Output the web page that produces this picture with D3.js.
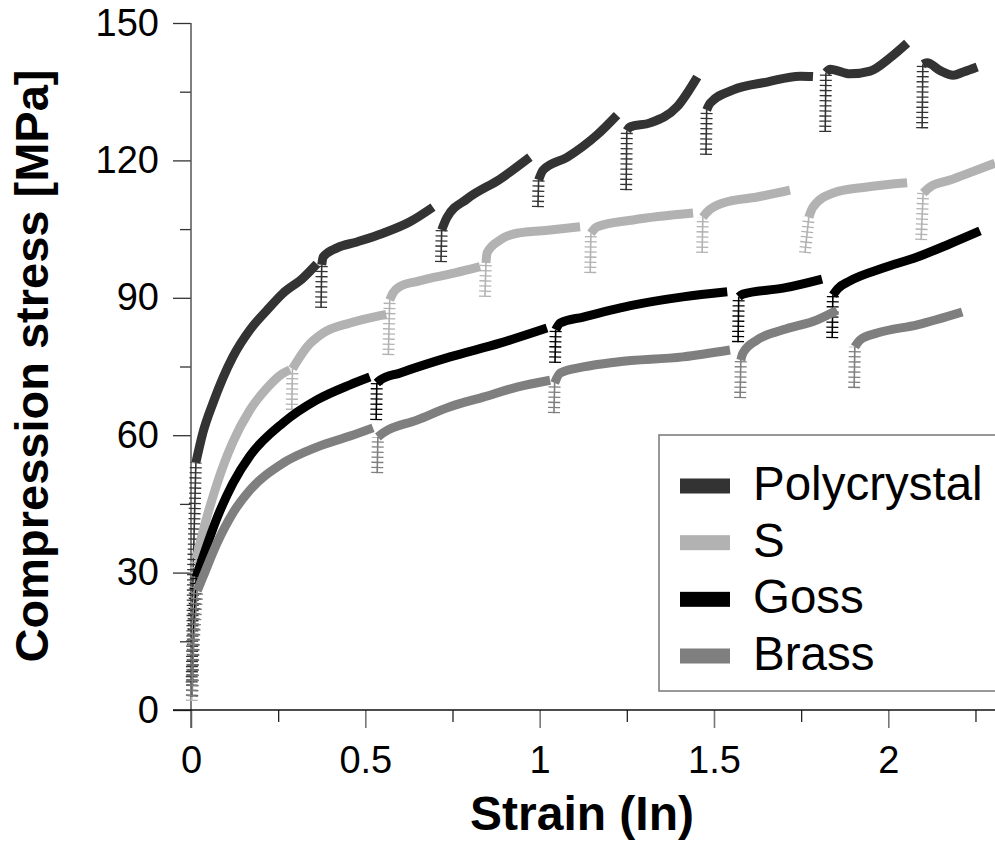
<!DOCTYPE html>
<html>
<head>
<meta charset="utf-8">
<script src="https://cdn.jsdelivr.net/npm/d3@7/dist/d3.min.js"></script>
<style>
  html, body { margin: 0; padding: 0; background: #fff; }
  svg { display: block; }
  text { font-family: "Liberation Sans", Arial, Helvetica, sans-serif; }
</style>
</head>
<body>
<svg id="chart" width="995" height="842"></svg>
<script>
// ---------- DATA (strain [ln], stress [MPa]) ----------
const seriesNames = ["Polycrystal", "S", "Goss", "Brass"];
const seriesColors = ["#333333", "#b2b2b2", "#000000", "#7f7f7f"];

const xMajorTicks = [0, 0.5, 1, 1.5, 2];
const xMinorTicks = [0.25, 0.75, 1.25, 1.75, 2.25];
const yMajorTicks = [0, 30, 60, 90, 120, 150];
const yMinorTicks = [15, 45, 75, 105, 135];

// each segment: reload (elastic reloading, drawn with + markers) and flow (plastic flow)
const polycrystalSegments = [
  { reload: [[0.002, 6], [0.006, 30], [0.014, 54]],
    flow: [[0.014, 54], [0.034, 60.5], [0.063, 67], [0.12, 77.1], [0.169, 83], [0.218, 87.3], [0.264, 91], [0.321, 94.3], [0.361, 97.4]] },
  { reload: [[0.373, 87.8], [0.375, 97.2]],
    flow: [[0.375, 97.2], [0.379, 98.9], [0.419, 100.9], [0.476, 102.2], [0.551, 104.1], [0.628, 106.6], [0.694, 109.8]] },
  { reload: [[0.717, 97.8], [0.719, 104.8]],
    flow: [[0.719, 104.8], [0.734, 107.5], [0.792, 111.6], [0.886, 115.9], [0.972, 120.7]] },
  { reload: [[0.995, 109.8], [0.997, 115.7]],
    flow: [[0.997, 115.7], [1.01, 117.9], [1.079, 120.7], [1.165, 125.6], [1.222, 129.9]] },
  { reload: [[1.248, 113.5], [1.25, 126.5]],
    flow: [[1.25, 126.5], [1.259, 127.3], [1.317, 128.2], [1.394, 131.7], [1.452, 138.2]] },
  { reload: [[1.477, 121.2], [1.479, 131]],
    flow: [[1.479, 131], [1.489, 132.5], [1.555, 135.4], [1.652, 137.1], [1.747, 138.4], [1.784, 138.3]] },
  { reload: [[1.819, 126.2], [1.821, 139.2]],
    flow: [[1.821, 139.2], [1.833, 139.9], [1.89, 138.9], [1.948, 139.5], [2.005, 142.4], [2.054, 145.6]] },
  { reload: [[2.097, 127], [2.099, 141]],
    flow: [[2.099, 141], [2.111, 141.3], [2.149, 139.6], [2.186, 138.6], [2.215, 139.3], [2.255, 140.4]] }
];

const sSegments = [
  { reload: [[0.002, 2], [0.006, 20], [0.015, 33]],
    flow: [[0.015, 33], [0.026, 36.5], [0.075, 49.5], [0.12, 58.5], [0.169, 65.5], [0.218, 70.3], [0.262, 73.4], [0.284, 74.3]] },
  { reload: [[0.289, 65.5], [0.291, 74.5]],
    flow: [[0.291, 74.5], [0.333, 79.3], [0.379, 82.3], [0.456, 84.5], [0.56, 86.4]] },
  { reload: [[0.566, 77.5], [0.57, 89.5]],
    flow: [[0.57, 89.5], [0.579, 91], [0.6, 92.5], [0.65, 93.6], [0.7, 94.5], [0.76, 95.5], [0.829, 96.8]] },
  { reload: [[0.843, 90.2], [0.846, 97.6]],
    flow: [[0.846, 97.6], [0.849, 99.8], [0.886, 102.6], [0.935, 104.1], [1.03, 104.8], [1.116, 105.5]] },
  { reload: [[1.145, 95.4], [1.147, 104.1]],
    flow: [[1.147, 104.1], [1.165, 105.5], [1.268, 107], [1.44, 108.5]] },
  { reload: [[1.466, 99.8], [1.468, 107.6]],
    flow: [[1.468, 107.6], [1.48, 108.7], [1.526, 110.7], [1.624, 112], [1.718, 113.5]] },
  { reload: [[1.761, 99.8], [1.772, 107.6]],
    flow: [[1.772, 107.6], [1.784, 109.8], [1.842, 112.9], [1.939, 114.2], [2.054, 115.1]] },
  { reload: [[2.094, 102.6], [2.1, 112.9]],
    flow: [[2.1, 112.9], [2.12, 114.2], [2.177, 115.7], [2.24, 117.5], [2.306, 119.4]] }
];

const gossSegments = [
  { reload: [[0.003, 3], [0.008, 18], [0.015, 29]],
    flow: [[0.015, 29], [0.026, 31.5], [0.075, 42], [0.12, 49.5], [0.169, 55.5], [0.264, 62.7], [0.361, 67.7], [0.456, 71], [0.513, 72.7]] },
  { reload: [[0.531, 63.3], [0.533, 71.4]],
    flow: [[0.533, 71.4], [0.542, 72], [0.6, 73.6], [0.743, 77.1], [0.886, 80.1], [1.021, 83.4]] },
  { reload: [[1.044, 75.8], [1.046, 83]],
    flow: [[1.046, 83], [1.059, 84.5], [1.125, 85.8], [1.268, 88.4], [1.411, 90.2], [1.538, 91.3]] },
  { reload: [[1.569, 80.3], [1.571, 90.2]],
    flow: [[1.571, 90.2], [1.583, 90.8], [1.698, 92.1], [1.81, 94.1]] },
  { reload: [[1.839, 81.2], [1.841, 90.6]],
    flow: [[1.841, 90.6], [1.855, 92], [1.89, 93.7], [1.985, 96.5], [2.083, 98.9], [2.177, 101.8], [2.263, 104.6]] }
];

const brassSegments = [
  { reload: [[0.003, 3], [0.008, 15], [0.018, 26]],
    flow: [[0.018, 26], [0.034, 29], [0.075, 36.5], [0.12, 43], [0.169, 48], [0.264, 53.9], [0.361, 57.4], [0.456, 59.8], [0.522, 61.6]] },
  { reload: [[0.534, 51.7], [0.536, 59.6]],
    flow: [[0.536, 59.6], [0.551, 60.5], [0.648, 63.3], [0.743, 66.2], [0.838, 68.3], [0.935, 70.5], [1.03, 72]] },
  { reload: [[1.041, 64.8], [1.043, 71.4]],
    flow: [[1.043, 71.4], [1.059, 73.6], [1.125, 74.9], [1.222, 76], [1.411, 77.1], [1.546, 78.6]] },
  { reload: [[1.575, 68.1], [1.577, 76.4]],
    flow: [[1.577, 76.4], [1.583, 77.9], [1.624, 80.8], [1.698, 83], [1.796, 85.2], [1.853, 87.3]] },
  { reload: [[1.902, 70.3], [1.904, 79.3]],
    flow: [[1.904, 79.3], [1.919, 80.8], [1.968, 82.3], [2.083, 84.1], [2.212, 86.9]] }
];

const allSegments = [polycrystalSegments, sSegments, gossSegments, brassSegments];

// ---------- CHART ----------
const svg = d3.select("#chart");
const x = d3.scaleLinear().domain([0, 2.306]).range([191, 995]);
const y = d3.scaleLinear().domain([0, 150]).range([710, 23]);

svg.append("defs").append("clipPath").attr("id", "plotclip")
  .append("rect").attr("x", 0).attr("y", 0).attr("width", 995).attr("height", 712);

const line = d3.line().x(d => x(d[0])).y(d => y(d[1])).curve(d3.curveMonotoneX);
const lineStraight = d3.line().x(d => x(d[0])).y(d => y(d[1]));

// axes
const yAxisG = svg.append("g").attr("transform", "translate(191,0)");
yAxisG.call(d3.axisLeft(y).tickValues(yMajorTicks).tickSize(18).tickPadding(14).tickFormat(d3.format("d")));
yAxisG.select(".domain").remove();
yAxisG.selectAll(".tick line").attr("stroke", "#333").attr("stroke-width", 1.3);
yAxisG.selectAll(".tick text").attr("font-size", 38).attr("fill", "#000")
  .attr("font-family", "'Liberation Sans', Arial, sans-serif");
const yMinorG = svg.append("g").attr("transform", "translate(191,0)");
yMinorG.call(d3.axisLeft(y).tickValues(yMinorTicks).tickSize(11).tickFormat(""));
yMinorG.select(".domain").remove();
yMinorG.selectAll(".tick line").attr("stroke", "#333").attr("stroke-width", 1.3);

const xAxisG = svg.append("g").attr("transform", "translate(0,710)");
xAxisG.call(d3.axisBottom(x).tickValues(xMajorTicks).tickSize(18).tickPadding(18).tickFormat(d => d3.format("")(d)));
xAxisG.select(".domain").remove();
xAxisG.selectAll(".tick line").attr("stroke", "#777").attr("stroke-width", 1.6);
xAxisG.selectAll(".tick text").attr("font-size", 38).attr("fill", "#000")
  .attr("font-family", "'Liberation Sans', Arial, sans-serif");
const xMinorG = svg.append("g").attr("transform", "translate(0,710)");
xMinorG.call(d3.axisBottom(x).tickValues(xMinorTicks).tickSize(12).tickFormat(""));
xMinorG.select(".domain").remove();
xMinorG.selectAll(".tick line").attr("stroke", "#222").attr("stroke-width", 1.3);

// axis lines
svg.append("line").attr("x1", x(0)).attr("x2", x(0)).attr("y1", y(150)).attr("y2", 728)
  .attr("stroke", "#555").attr("stroke-width", 1.5);
svg.append("line").attr("x1", 173).attr("x2", 995).attr("y1", y(0)).attr("y2", y(0))
  .attr("stroke", "#111").attr("stroke-width", 1.5);

// data
const plot = svg.append("g").attr("clip-path", "url(#plotclip)");
allSegments.forEach((segs, i) => {
  const col = seriesColors[i];
  const g = plot.append("g");
  segs.forEach(seg => {
    // reload: "+" markers (horizontal bars via a wide dashed stroke + thin vertical line)
    g.append("path").attr("d", lineStraight(seg.reload)).attr("fill", "none")
      .attr("stroke", col).attr("stroke-width", 12).attr("stroke-dasharray", "1.3 3.8");
    g.append("path").attr("d", lineStraight(seg.reload)).attr("fill", "none")
      .attr("stroke", col).attr("stroke-width", 1.6);
    // flow: dense marker band
    g.append("path").attr("d", line(seg.flow)).attr("fill", "none")
      .attr("stroke", col).attr("stroke-width", 9).attr("stroke-linecap", "butt")
      .attr("stroke-linejoin", "round");
  });
});

// axis titles
svg.append("text").attr("x", 582).attr("y", 830).attr("text-anchor", "middle")
  .attr("font-size", 48).attr("font-weight", "bold").text("Strain (In)");
svg.append("text").attr("transform", "translate(48,366) rotate(-90)").attr("text-anchor", "middle")
  .attr("font-size", 47).attr("font-weight", "bold").text("Compression stress [MPa]");

// legend
const leg = svg.append("g");
leg.append("rect").attr("x", 659).attr("y", 435).attr("width", 345).attr("height", 256)
  .attr("fill", "#fff").attr("stroke", "#777").attr("stroke-width", 1.5);
const legY = d3.scalePoint().domain(seriesNames).range([486, 656]);
seriesNames.forEach((n, i) => {
  leg.append("rect").attr("x", 680).attr("y", legY(n) - 7.5).attr("width", 50).attr("height", 15)
    .attr("fill", seriesColors[i]);
  leg.append("text").attr("x", 753).attr("y", legY(n) + 14).attr("font-size", 47.5)
    .attr("fill", "#000").text(n);
});
</script>
</body>
</html>
